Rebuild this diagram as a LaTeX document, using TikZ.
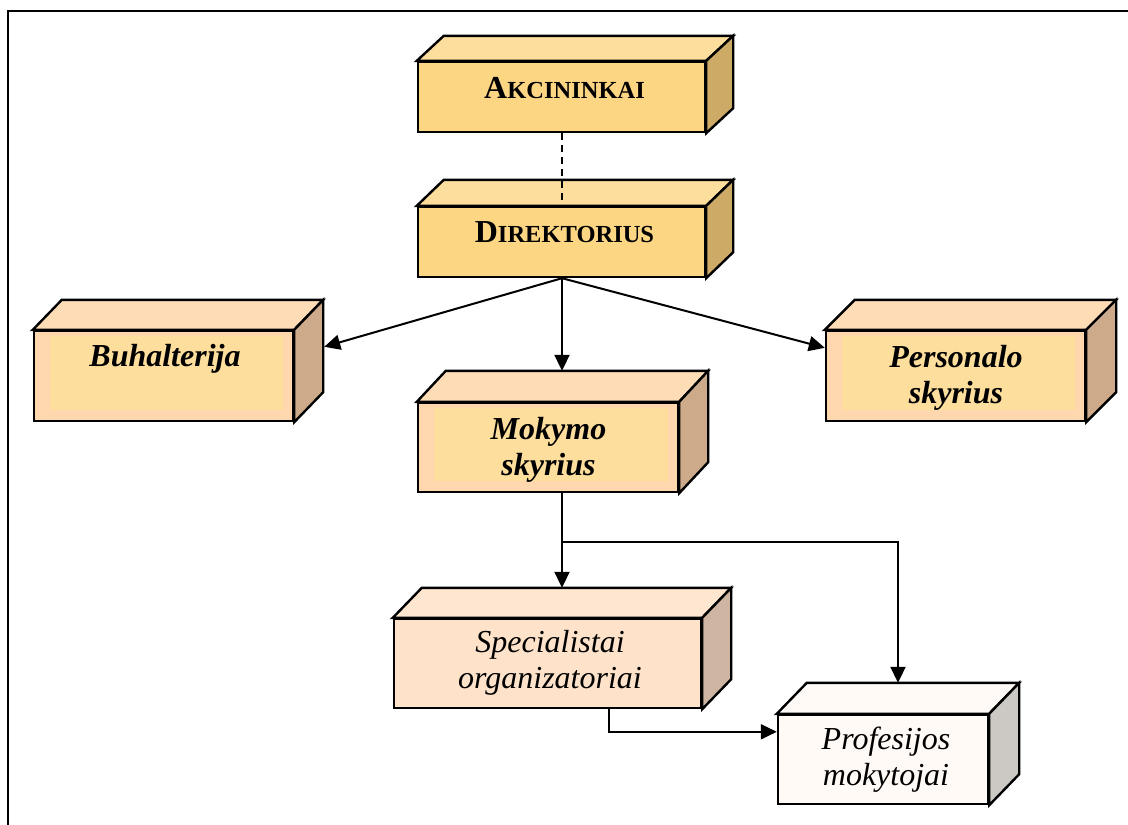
\documentclass[tikz,border=0pt]{standalone}
\usepackage{fontspec}
\setmainfont{Liberation Serif}
\usetikzlibrary{calc,arrows.meta}

% face colours of the solid boxes
\definecolor{goldfront}{HTML}{FDD684}
\definecolor{goldtop}{HTML}{FEDE9C}
\definecolor{goldside}{HTML}{CDAA66}
\definecolor{peachfront}{HTML}{FED7AE}
\definecolor{peachtop}{HTML}{FEDCB6}
\definecolor{peachside}{HTML}{CCAA8A}
\definecolor{peachinner}{HTML}{FEDE9C}
\definecolor{palefront}{HTML}{FEE3CA}
\definecolor{paletop}{HTML}{FEE6D0}
\definecolor{paleside}{HTML}{CDB5A2}
\definecolor{whitefront}{HTML}{FFFAF5}
\definecolor{whitetop}{HTML}{FFFAF5}
\definecolor{whiteside}{HTML}{CCC8C4}

\tikzset{
  face/.style={draw=black, line width=2.4pt, line join=miter, rectangle, inner sep=0pt},
  edge/.style={draw=black, line width=2.4pt, line join=miter},
  link/.style={draw=black, line width=2pt, -{Triangle[length=16pt,width=15pt]}},
  plainlink/.style={draw=black, line width=2pt},
  headtext/.style={font=\bfseries, anchor=base},
  unittext/.style={font=\bfseries\itshape\fontsize{32}{36}\selectfont, align=center},
  stafftext/.style={font=\itshape\fontsize{32}{36}\selectfont, align=center},
}

% solid box: name, centre, width, height, depth x, depth y, colour prefix
\newcommand\solidbox[7]{%
  \node[face, fill=#7front, minimum width=#3pt, minimum height=#4pt] (#1) at (#2) {};
  \draw[edge, fill=#7top] (#1.north west) -- ++(#5,-#6)
    -- ($(#1.north east)+(#5,-#6)$) -- (#1.north east) -- cycle;
  \draw[edge, fill=#7side] (#1.north east) -- ++(#5,-#6)
    -- ($(#1.south east)+(#5,-#6)$) -- (#1.south east) -- cycle;
}
% lighter panel inside the front face
\newcommand\innerpanel[1]{%
  \fill[peachinner] ($(#1.north west)+(17,6)$) rectangle ($(#1.south east)+(-11,-12)$);
}

\begin{document}
\begin{tikzpicture}[x=1pt, y=-1pt]
  \useasboundingbox (0,0) rectangle (1128,825);

  % page frame
  \draw[line width=2.4pt] (8,825) -- (8,11) -- (1128,11);

  % boxes
  \solidbox{akc}{561.5,97}{287}{70}{27}{25}{gold}
  \solidbox{dir}{561.5,242}{287}{70}{27}{26}{gold}
  \solidbox{buh}{163.5,376}{259}{90}{29}{30}{peach}
  \innerpanel{buh}
  \solidbox{mok}{548,447.5}{260}{89}{29}{31}{peach}
  \innerpanel{mok}
  \solidbox{per}{955.5,376}{259}{90}{30}{30}{peach}
  \innerpanel{per}
  \solidbox{spec}{547.5,663.5}{307}{89}{29}{30}{pale}
  \solidbox{prof}{883,759.5}{210}{89}{30}{31}{white}

  % labels
  \node[headtext] (akc-t) at (564.5,98)
    {{\fontsize{32}{36}\selectfont A}{\fontsize{24.5}{36}\selectfont KCININKAI}};
  \node[headtext] (dir-t) at (564.5,242)
    {{\fontsize{32}{36}\selectfont D}{\fontsize{24.5}{36}\selectfont IREKTORIUS}};
  \node[unittext, anchor=base] (buh-t) at (165,366) {Buhalterija};
  \node[unittext] (mok-t) at (548.5,449.5) {Mokymo\\skyrius};
  \node[unittext] (per-t) at (956,377.5) {Personalo\\skyrius};
  \node[stafftext] (spec-t) at (550,663) {Specialistai\\organizatoriai};
  \node[stafftext] (prof-t) at (886,759.5) {Profesijos\\mokytojai};

  % connection points
  \coordinate (top) at ($(dir.south)+(0.5,0)$);
  \coordinate (buh-in) at ($(buh.north east)+(30,17)$);
  \coordinate (per-in) at ($(per.north west)+(0,18)$);
  \coordinate (mok-in) at ($(mok.north west)+(0,-31)$);
  \coordinate (split) at ($(top |- mok.south)+(0,49)$);
  \coordinate (spec-in) at ($(spec.north west)+(0,-30)$);
  \coordinate (turn) at (898,0);
  \coordinate (prof-in) at ($(prof.north west)+(0,-31)$);
  \coordinate (spec-out) at ($(spec.south west)+(216,0)$);
  \coordinate (prof-side) at ($(prof.north west)+(0,18)$);

  % connectors
  \draw[line width=2pt, dash pattern=on 7pt off 5pt] (akc.south -| top) -- ($(dir.north -| top)+(0,-6)$);
  \draw[link] (top) -- (buh-in);
  \draw[link] (top) -- (per-in);
  \draw[link] (top) -- (top |- mok-in);
  \draw[plainlink] (top |- mok.south) -- (split);
  \draw[link] (split) -- (top |- spec-in);
  \draw[link] (split) -- (turn |- split) -- (turn |- prof-in);
  \draw[link] (spec-out) -- (spec-out |- prof-side) -- (prof-side);
\end{tikzpicture}
\end{document}
